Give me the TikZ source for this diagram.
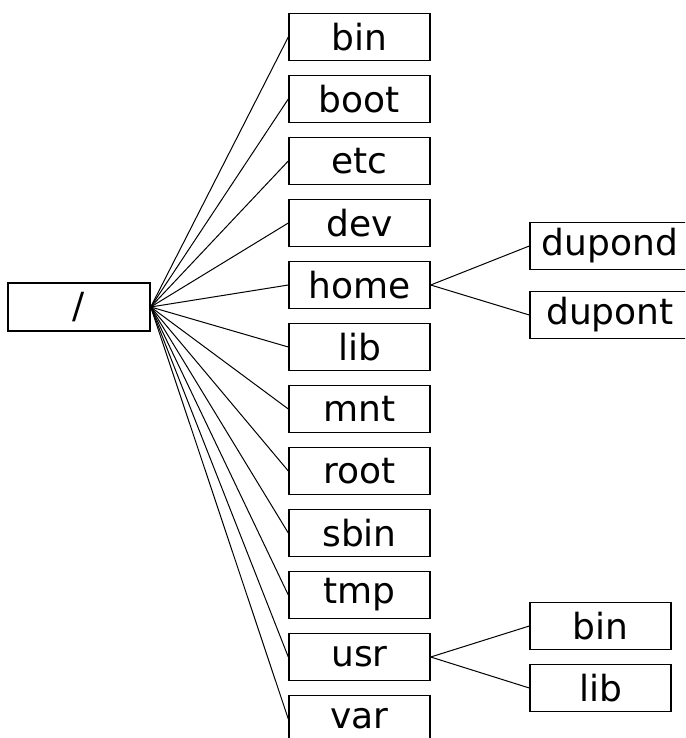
\documentclass[tikz,border=0pt]{standalone}
\usepackage{fontspec}
\setmainfont{DejaVu Sans}
\usetikzlibrary{positioning}
\tikzset{%
    dir/.style={draw,line width=0.7pt,minimum width=70.5pt,minimum height=23.5pt,
      inner sep=0pt,font=\fontsize{18}{20}\selectfont}
}

\begin{document}
\begin{tikzpicture}[x=0.5pt,y=-0.5pt,node distance=31pt,
  every edge/.style={draw,line width=0.5pt}]
  \useasboundingbox (0,0) rectangle (685,738);
  \clip (0,0) rectangle (685,738);

  \node[dir,minimum width=71pt,minimum height=24pt] (root) at (79,307) {/};
  \node[dir] (bin) at (359.5,37) {bin};
  \node[dir] (boot) [below of=bin] {boot};
  \node[dir] (etc) [below of=boot] {etc};
  \node[dir] (dev) [below of=etc] {dev};
  \node[dir] (home) [below of=dev] {home};
  \node[dir] (lib) [below of=home] {lib};
  \node[dir] (mnt) [below of=lib] {mnt};
  \node[dir] (rootdir) [below of=mnt] {root};
  \node[dir] (sbin) [below of=rootdir] {sbin};
  \node[dir] (tmp) [below of=sbin] {tmp};
  \node[dir] (usr) [below of=tmp] {usr};
  \node[dir] (var) [below of=usr] {var};

  \node[dir,minimum width=80pt] (dupond) at (610,246) {dupond};
  \node[dir,minimum width=80pt] (dupont) [below of=dupond,node distance=34.5pt] {dupont};

  \node[dir] (usrbin) at (600.5,626) {bin};
  \node[dir] (usrlib) [below of=usrbin] {lib};

\path
	(root.east) edge (bin.west)
	(root.east) edge (boot.west)
	(root.east) edge (etc.west)
	(root.east) edge (dev.west)
	(root.east) edge (home.west)
	(root.east) edge (lib.west)
	(root.east) edge (mnt.west)
	(root.east) edge (rootdir.west)
	(root.east) edge (sbin.west)
	(root.east) edge (tmp.west)
	(root.east) edge (usr.west)
	(root.east) edge (var.west)
	(home.east) edge (dupond.west)
	(home.east) edge (dupont.west)
	(usr.east) edge (usrbin.west)
	(usr.east) edge (usrlib.west);
\end{tikzpicture}
\end{document}
